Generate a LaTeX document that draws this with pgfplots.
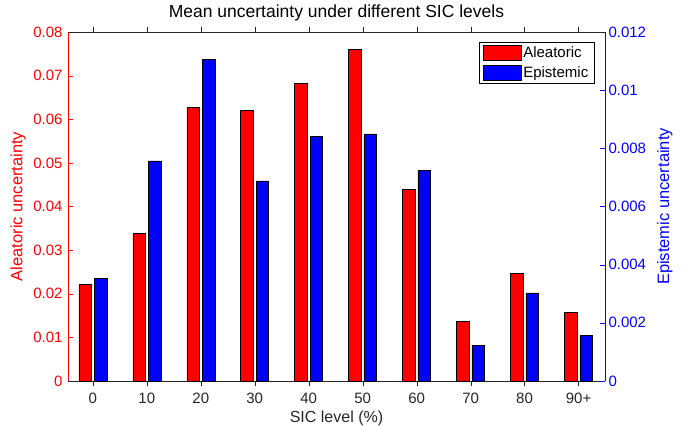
\documentclass[border=0pt]{standalone}
\usepackage{pgfplots}
\pgfplotsset{compat=1.18}
\usepackage{fontspec}
\setmainfont{Liberation Sans}
\definecolor{mred}{rgb}{1,0,0}
\definecolor{mblue}{rgb}{0,0,1}
\definecolor{mgray}{rgb}{0.15,0.15,0.15}

\pgfplotstableread{
x ale epi
0 0.0222 0.00353
1 0.0338 0.00757
2 0.0628 0.01106
3 0.0620 0.00688
4 0.0683 0.00842
5 0.0761 0.00850
6 0.0440 0.00724
7 0.0137 0.00123
8 0.0247 0.00303
9 0.0158 0.00157
}\datatable

\pgfplotsset{
  common/.style={
    scale only axis, width=537bp, height=349bp,
    xmin=-0.46, xmax=9.49, ymin=0,
    font=\fontsize{15bp}{17bp}\selectfont,
    tick align=inside, major tick length=5bp,
    /pgf/number format/assume math mode=true,
    /pgf/number format/fixed,
    /pgf/number format/precision=3,
    scaled y ticks=false,
    xtick={0,...,9},
    ybar, bar width=0.235,
    clip=false,
  }
}

\usepackage{pgfplotstable}
\begin{document}
\begin{tikzpicture}
\begin{axis}[common, name=ax,
  ymax=0.08, ytick={0,0.01,...,0.08},
  axis x line*=bottom, axis y line*=left,
  x axis line style={mgray},
  y axis line style={mred},
  ytick style={mred},
  xtick style={mgray},
  yticklabel style={mred, xshift=-2bp},
  xticklabel style={mgray, yshift=-4bp},
  xticklabels={0,10,20,30,40,50,60,70,80,90+},
  ylabel={Aleatoric uncertainty},
  ylabel style={mred, at={(rel axis cs:-0.093,0.5)}, anchor=center, font=\fontsize{16.5bp}{18bp}\selectfont},
  xlabel={SIC level (\%)},
  xlabel style={mgray, at={(rel axis cs:0.5,-0.106)}, anchor=center, font=\fontsize{16bp}{18bp}\selectfont},
  title={Mean uncertainty under different SIC levels},
  title style={black, at={(rel axis cs:0.5,1.037)}, anchor=center, font=\fontsize{17.5bp}{19bp}\selectfont},
]
\addplot[ybar, bar shift=-0.142, fill=mred, draw=black, line width=0.5bp] table[x=x, y=ale] {\datatable};
\end{axis}
\begin{axis}[common,
  ymax=0.012, ytick={0,0.002,...,0.0121},
  axis x line*=top, axis y line*=right,
  x axis line style={mgray},
  y axis line style={mblue},
  ytick style={mblue},
  xtick style={mgray},
  xticklabels={},
  yticklabel style={mblue},
  ylabel={Epistemic uncertainty},
  ylabel style={mblue, at={(rel axis cs:1.1117,0.5)}, anchor=center, font=\fontsize{16.5bp}{18bp}\selectfont},
  legend style={at={(rel axis cs:0.9795,0.971)}, anchor=north east, draw=black, fill=white,
    font=\fontsize{15bp}{17bp}\selectfont, inner xsep=3.5bp, inner ysep=2.5bp, row sep=3bp},
  legend cell align=left,
  legend image code/.code={\draw[#1] (0bp,-7.5bp) rectangle (38bp,7.5bp);},
]
\addlegendimage{fill=mred, draw=black}
\addlegendentry{Aleatoric}
\addplot[ybar, bar shift=0.142, fill=mblue, draw=black, line width=0.5bp] table[x=x, y=epi] {\datatable};
\addlegendentry{Epistemic}
\end{axis}
\pgfresetboundingbox
\path[use as bounding box] ([shift={(-68bp,-46bp)}]ax.south west) rectangle ([shift={(77bp,32bp)}]ax.north east);
\end{tikzpicture}
\end{document}
